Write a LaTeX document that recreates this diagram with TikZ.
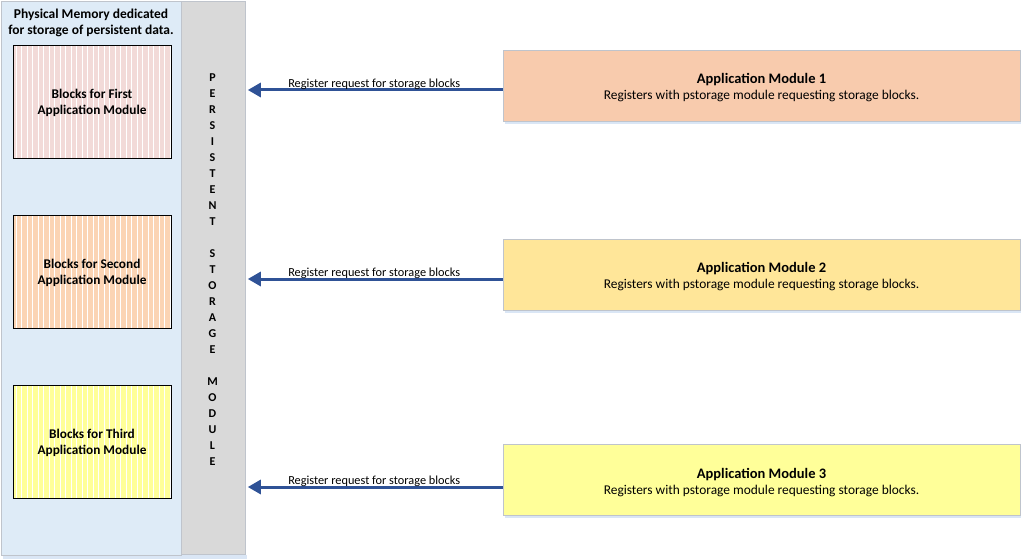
\documentclass[tikz,border=0pt]{standalone}
\usepackage{fontspec}
\setmainfont{Carlito}
\usetikzlibrary{arrows.meta}
\definecolor{membg}{RGB}{222,235,247}
\definecolor{psmbg}{RGB}{217,217,217}
\definecolor{panelborder}{RGB}{191,196,204}
\definecolor{shadowc}{RGB}{218,230,245}
\definecolor{pinkblk}{RGB}{242,218,216}
\definecolor{peachblk}{RGB}{251,212,180}
\definecolor{yellowblk}{RGB}{255,255,153}
\definecolor{appA}{RGB}{248,203,173}
\definecolor{appB}{RGB}{255,230,153}
\definecolor{appC}{RGB}{255,255,153}
\definecolor{arrowblue}{RGB}{47,82,150}
\newcommand{\apptitletext}[1]{{\bfseries\fontsize{14.5}{16}\selectfont\rule{0pt}{14.5pt}#1}}
\begin{document}
\begin{tikzpicture}[x=1pt,y=-1pt,
  panel/.style={draw=panelborder,line width=0.8pt},
  blockbox/.style={draw=black,line width=0.8pt,minimum width=158pt,minimum height=113pt,inner sep=0pt,
    align=center,font=\bfseries\fontsize{13.3}{16}\selectfont,text depth=0pt,
    path picture={\foreach \i in {0,...,28}{\draw[white,line width=0.7pt]
      ([xshift=\i*5.5pt+3pt]path picture bounding box.south west) --
      ([xshift=\i*5.5pt+3pt]path picture bounding box.north west);}}},
  appbox/.style={draw=panelborder,line width=0.8pt,minimum width=517pt,minimum height=71pt,inner sep=0pt,align=center,
    font=\fontsize{13.4}{16}\selectfont},
  req/.style={draw=arrowblue,line width=3pt,-{Triangle[length=13pt,width=14pt]},shorten >=2pt},
  reqlabel/.style={midway,above,inner sep=0pt,yshift=-1.5pt,font=\fontsize{12.3}{14}\selectfont}
]
\useasboundingbox (0,0) rectangle (1022,559);
% shadows
\fill[shadowc] (3,555) rectangle (247,559);
% panels
\node[panel,fill=membg,minimum width=180pt,minimum height=554pt,inner sep=0pt,anchor=north west] (mem) at (1,1) {};
\node[panel,fill=psmbg,minimum width=64pt,minimum height=553pt,inner sep=0pt,anchor=north west] (psm) at (181,1) {};
\node[align=center,font=\bfseries\fontsize{13.5}{16}\selectfont] (memtitle) at (91,23) {Physical Memory dedicated\\for storage of persistent data.};
\node[align=center,font=\bfseries\fontsize{12}{16}\selectfont,anchor=north,inner sep=0pt] (psmtext) at (212.5,74) {P\\E\\R\\S\\I\\S\\T\\E\\N\\T\\~\\S\\T\\O\\R\\A\\G\\E\\~\\M\\O\\D\\U\\L\\E};
% blocks
\node[blockbox,fill=pinkblk] (blk1) at (92,101.5) {Blocks for First\\Application Module};
\node[blockbox,fill=peachblk] (blk2) at (92,271.5) {Blocks for Second\\Application Module};
\node[blockbox,fill=yellowblk] (blk3) at (92,441.5) {Blocks for Third\\Application Module};
% app modules
\fill[shadowc] (505,121) rectangle (1021,124);
\fill[shadowc] (505,310) rectangle (1021,313);
\fill[shadowc] (505,515) rectangle (1021,518);
\node[appbox,fill=appA] (app1) at (761.5,85.5) {\apptitletext{Application Module 1}\\Registers with pstorage module requesting storage blocks.};
\node[appbox,fill=appB] (app2) at (761.5,274.5) {\apptitletext{Application Module 2}\\Registers with pstorage module requesting storage blocks.};
\node[appbox,fill=appC] (app3) at (761.5,480) {\apptitletext{Application Module 3}\\Registers with pstorage module requesting storage blocks.};
% arrows
\coordinate (s1) at ([yshift=-4.5pt]app1.west);
\coordinate (s2) at ([yshift=-4.5pt]app2.west);
\coordinate (s3) at ([yshift=-7pt]app3.west);
\draw[req] (s1) -- (s1 -| psm.east) node[reqlabel] (l1) {Register request for storage blocks};
\draw[req] (s2) -- (s2 -| psm.east) node[reqlabel] (l2) {Register request for storage blocks};
\draw[req] (s3) -- (s3 -| psm.east) node[reqlabel] (l3) {Register request for storage blocks};
\end{tikzpicture}
\end{document}
